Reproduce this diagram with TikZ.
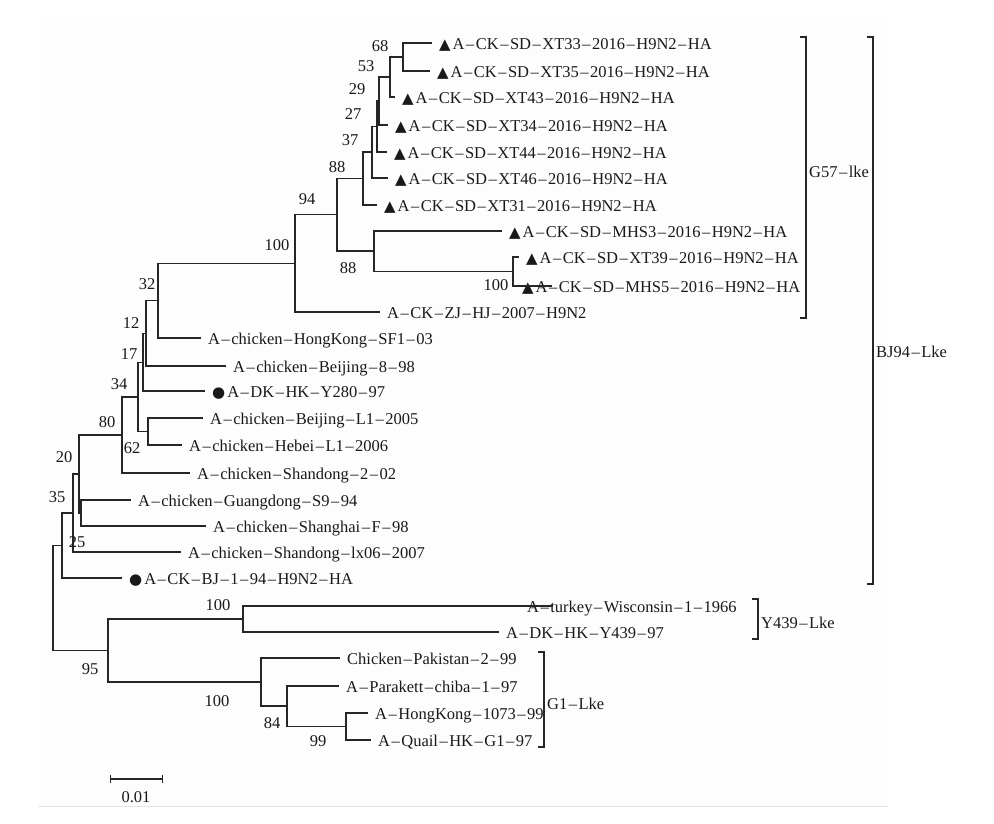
\documentclass[tikz,border=0pt]{standalone}
\usepackage{fontspec}
\setmainfont{Liberation Serif}
\newfontfamily\symfont{DejaVu Sans}
\usepackage{xcolor}
\usepackage{tikz}
\usetikzlibrary{arrows.meta}
\usetikzlibrary{positioning}
\newcommand{\hy}{\kern1.5pt\textendash\kern1.5pt}
\newcommand{\tri}{{\symfont\fontsize{15}{15}\selectfont ▲}\kern2pt}
\newcommand{\blob}{{\symfont\fontsize{15}{15}\selectfont ●}\kern2pt}
\tikzset{%
  every leaf/.style={
    anchor=west,
    inner xsep=7pt,
    inner ysep=0pt,
    text height=13.5pt,
    text depth=0.5pt,
    font=\fontsize{16.5}{18}\selectfont,
    text=black!90
  },
  boot/.style={
    inner sep=0pt,
    font=\fontsize{16.5}{18}\selectfont,
    text=black!90
  },
  clade/.style={
    anchor=west,
    inner sep=2pt,
    font=\fontsize{16.5}{18}\selectfont,
    text=black!90
  },
  branch/.style={
    line width=1.4pt,
    draw=black!85
  },
}

\begin{document}
\begin{tikzpicture}[x=1pt, y=-1pt]

    \useasboundingbox (0,0) rectangle (994,823);
    \fill [black!0.7] (40,15) rectangle (888,806);
    \draw [black!10, line width=1pt] (38,806) -- (888,806);

    % inner nodes of the tree
    \foreach \n/\x/\y in {n68/403/57, n53/390/77, n29/379/101, n27/377/126.5,
        n37/372/152, n88a/363/178.5, n100b/513/271.5, n88b/374/251,
        n94/337/214.75, n100a/295/263.5, n32/158/300.75, n12/146/333.4,
        n17/143/362.2, n62/148/431.5, n34/138/396.9, n80/122/435,
        nGS/81/513, n20/79/474, n25/73/513, n35/62/545.5, root/53/598,
        n95/108/650.5, nY/243/619, nG1/261/682, n84/287/706, n99/346/726.5}
    \coordinate (\n) at (\x,\y);

    % leaves
    \foreach \n/\x/\y/\t in {
        xt33/432/43/{\tri A\hy CK\hy SD\hy XT33\hy 2016\hy H9N2\hy HA},
        xt35/430/71/{\tri A\hy CK\hy SD\hy XT35\hy 2016\hy H9N2\hy HA},
        xt43/395/97/{\tri A\hy CK\hy SD\hy XT43\hy 2016\hy H9N2\hy HA},
        xt34/388/125/{\tri A\hy CK\hy SD\hy XT34\hy 2016\hy H9N2\hy HA},
        xt44/387/152/{\tri A\hy CK\hy SD\hy XT44\hy 2016\hy H9N2\hy HA},
        xt46/388/178/{\tri A\hy CK\hy SD\hy XT46\hy 2016\hy H9N2\hy HA},
        xt31/377/205/{\tri A\hy CK\hy SD\hy XT31\hy 2016\hy H9N2\hy HA},
        mhs3/502/231/{\tri A\hy CK\hy SD\hy MHS3\hy 2016\hy H9N2\hy HA},
        xt39/519/257/{\tri A\hy CK\hy SD\hy XT39\hy 2016\hy H9N2\hy HA},
        mhs5/515/286/{\tri A\hy CK\hy SD\hy MHS5\hy 2016\hy H9N2\hy HA},
        zj/380/312/{A\hy CK\hy ZJ\hy HJ\hy 2007\hy H9N2},
        sf1/201/338/{A\hy chicken\hy HongKong\hy SF1\hy 03},
        bj898/226/366/{A\hy chicken\hy Beijing\hy 8\hy 98},
        y280/205/391/{\blob A\hy DK\hy HK\hy Y280\hy 97},
        bjl1/203/418/{A\hy chicken\hy Beijing\hy L1\hy 2005},
        hebei/182/445/{A\hy chicken\hy Hebei\hy L1\hy 2006},
        sd202/190/473/{A\hy chicken\hy Shandong\hy 2\hy 02},
        gd/131/500/{A\hy chicken\hy Guangdong\hy S9\hy 94},
        sh/206/526/{A\hy chicken\hy Shanghai\hy F\hy 98},
        lx06/181/552/{A\hy chicken\hy Shandong\hy lx06\hy 2007},
        bj194/122/578/{\blob A\hy CK\hy BJ\hy 1\hy 94\hy H9N2\hy HA},
        turkey/520/606/{A\hy turkey\hy Wisconsin\hy 1\hy 1966},
        y439/499/632/{A\hy DK\hy HK\hy Y439\hy 97},
        pak/340/658/{Chicken\hy Pakistan\hy 2\hy 99},
        para/339/686/{A\hy Parakett\hy chiba\hy 1\hy 97},
        hk1073/368/713/{A\hy HongKong\hy 1073\hy 99},
        quail/371/740/{A\hy Quail\hy HK\hy G1\hy 97}}
    \node [every leaf/.try] (\n) at (\x,\y) {\t};

    % two branches run on under their labels
    \coordinate (mhs5-e) at (552,286);
    \coordinate (turkey-e) at (553,606);

    \foreach \a/\b in {n68/xt33, n68/xt35, n53/n68, n53/xt43, n29/n53, n29/xt34,
        n27/n29, n27/xt44, n37/n27, n37/xt46, n88a/n37, n88a/xt31,
        n100b/xt39, n100b/mhs5-e, n88b/mhs3, n88b/n100b, n94/n88a, n94/n88b,
        n100a/n94, n100a/zj, n32/n100a, n32/sf1, n12/n32, n12/bj898,
        n17/n12, n17/y280, n62/bjl1, n62/hebei, n34/n17, n34/n62,
        n80/n34, n80/sd202, nGS/gd, nGS/sh, n20/n80, n20/nGS,
        n25/n20, n25/lx06, n35/n25, n35/bj194, n99/hk1073, n99/quail,
        n84/para, n84/n99, nG1/pak, nG1/n84, nY/turkey-e, nY/y439,
        n95/nY, n95/nG1, root/n35, root/n95}
        \draw [branch] (\a) |- (\b);

    % bootstrap values
    \foreach \v/\x/\y [count=\i] in {68/380/46, 53/366/66, 29/357/89, 27/353/114,
        37/350/140, 88/337/167, 94/307/199, 100/277/245, 88/348/268, 100/496/285,
        32/147/284, 12/131/323, 17/129/354, 34/119/384, 80/107/422, 62/132/448,
        20/64/457, 35/57/497, 25/77/542, 100/218/605, 95/90/669, 100/217/701,
        84/272/723, 99/318/741}
    \node [boot] (b\i) at (\x,\y) {\v};

    % clade brackets
    \foreach \m/\x/\t/\b/\y/\l in {g57/806/37/318/172/{G57\hy lke},
        bj94/873/37/584/352/{BJ94\hy Lke}, y439c/758/599/639/623/{Y439\hy Lke},
        g1/544/652/747/704/{G1\hy Lke}}
    {
        \draw [branch] (\x-6,\t) -- (\x,\t) -- (\x,\b) -- (\x-6,\b);
        \node [clade] (\m) at (\x+1,\y) {\l};
    }

    % scale bar
    \coordinate (sb-l) at (110,779);
    \coordinate (sb-r) at (163,779);
    \draw [branch, {Bar[width=8pt]}-{Bar[width=8pt]}] (sb-l) -- (sb-r);
    \node [boot] (sb) at (136,797) {0.01};

\end{tikzpicture}
\end{document}
